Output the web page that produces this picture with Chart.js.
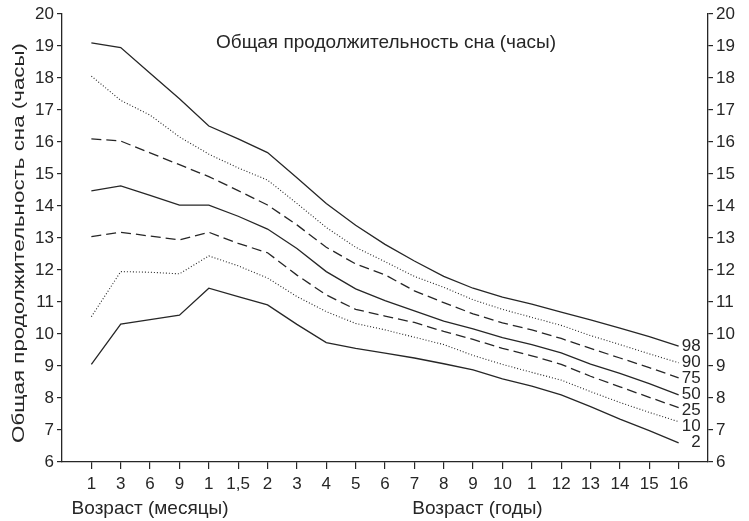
<!DOCTYPE html>
<html lang="ru">
<head>
<meta charset="utf-8">
<title>Общая продолжительность сна</title>
<script src="https://cdn.jsdelivr.net/npm/chart.js@4/dist/chart.umd.min.js"></script>
<style>
html, body { margin: 0; padding: 0; background: #fff; }
#wrap { width: 749px; height: 521px; }
</style>
</head>
<body>
<div id="wrap"><canvas id="sleepChart"></canvas></div>
<script>
// age categories (months, then years) as printed under the axis
const ageLabels = ['1', '3', '6', '9', '1', '1,5', '2', '3', '4', '5', '6', '7', '8', '9', '10', '1', '12', '13', '14', '15', '16'];

// percentile curves, hours of sleep per day
const p98 = [19.1, 18.95, 18.15, 17.35, 16.5, 16.1, 15.67, 14.88, 14.08, 13.4, 12.8, 12.28, 11.8, 11.43, 11.15, 10.93, 10.68, 10.44, 10.18, 9.92, 9.62];
const p90 = [18.06, 17.3, 16.84, 16.16, 15.62, 15.19, 14.81, 14.08, 13.33, 12.71, 12.26, 11.8, 11.46, 11.07, 10.77, 10.52, 10.27, 9.95, 9.67, 9.38, 9.1];
const p75 = [16.1, 16.03, 15.66, 15.29, 14.92, 14.48, 14.03, 13.41, 12.71, 12.19, 11.85, 11.35, 10.98, 10.63, 10.35, 10.13, 9.86, 9.55, 9.25, 8.95, 8.63];
const p50 = [14.47, 14.63, 14.33, 14.03, 14.03, 13.68, 13.28, 12.67, 11.95, 11.41, 11.04, 10.72, 10.4, 10.16, 9.89, 9.67, 9.41, 9.06, 8.77, 8.45, 8.1];
const p25 = [13.04, 13.18, 13.06, 12.94, 13.18, 12.83, 12.54, 11.84, 11.22, 10.77, 10.56, 10.36, 10.08, 9.83, 9.55, 9.32, 9.05, 8.68, 8.35, 8.02, 7.7];
const p10 = [10.54, 11.95, 11.93, 11.88, 12.44, 12.13, 11.75, 11.17, 10.7, 10.33, 10.13, 9.9, 9.67, 9.33, 9.05, 8.8, 8.56, 8.2, 7.86, 7.55, 7.26];
const p2 = [9.05, 10.31, 10.45, 10.59, 11.43, 11.17, 10.91, 10.3, 9.73, 9.55, 9.4, 9.25, 9.07, 8.88, 8.6, 8.37, 8.1, 7.73, 7.34, 6.98, 6.6];

const percentileNames = ['98', '90', '75', '50', '25', '10', '2'];
const yMin = 6;
const yMax = 20;

const INK = '#262626';
const FONT = '"Liberation Sans", Arial, sans-serif';

document.addEventListener('DOMContentLoaded', function() {
const series = [p98, p90, p75, p50, p25, p10, p2];
const dashes = {
solid: [],
dotted: [1, 2],
dashed: [10, 5]
};
const styles = ['solid', 'dotted', 'dashed', 'solid', 'dashed', 'dotted', 'solid'];

const datasets = series.map((values, k) => ({
label: percentileNames[k],
data: values.map((v, i) => ({ x: i + 1, y: v })),
borderColor: INK,
borderWidth: styles[k] === 'dotted' ? 1.1 : 1.3,
borderDash: dashes[styles[k]],
pointRadius: 0,
tension: 0,
fill: false,
yAxisID: 'y'
}));

// free text: title, axis captions, percentile names at the line ends
const textPlugin = {
id: 'sleepTexts',
afterDraw(chart) {
const c = chart.ctx;
const area = chart.chartArea;
const xs = chart.scales.x;
const ys = chart.scales.y;
c.save();
c.fillStyle = INK;
c.font = '19px ' + FONT;
c.textAlign = 'center';
c.textBaseline = 'middle';
c.fillText('Общая продолжительность сна (часы)', (area.left + area.right) / 2 + 1, area.top + 29);
c.fillText('Возраст (месяцы)', xs.getPixelForValue(3), area.bottom + 47);
c.fillText('Возраст (годы)', xs.getPixelForValue(14.15), area.bottom + 47);

// the side caption is drawn longer than the title in the original
const yTitle = 'Общая продолжительность сна (часы)';
c.font = '16px ' + FONT;
const stretch = 400 / c.measureText(yTitle).width;
c.save();
c.translate(20, (area.top + area.bottom) / 2 + 5);
c.rotate(-Math.PI / 2);
c.scale(stretch, 1);
c.fillText(yTitle, 0, 0);
c.restore();

c.font = '17px ' + FONT;
c.textAlign = 'right';
const lx = xs.getPixelForValue(ageLabels.length) + 22;
let prev = -Infinity;
series.forEach((values, k) => {
let y = ys.getPixelForValue(values[values.length - 1]);
y = Math.max(y, prev + 16);
prev = y;
c.fillText(percentileNames[k], lx, y);
});
c.restore();
}
};

const tickFont = { family: FONT, size: 17 };
const axisGrid = { display: true, drawOnChartArea: false, drawTicks: true, color: INK, lineWidth: 1.2 };

const ctx = document.getElementById('sleepChart').getContext('2d');
new Chart(ctx, {
type: 'line',
data: { datasets: datasets },
options: {
responsive: true,
maintainAspectRatio: false,
animation: false,
layout: { padding: { top: 14, right: 0, bottom: 0, left: 0 } },
plugins: {
legend: { display: false },
tooltip: { enabled: false }
},
scales: {
x: {
type: 'linear',
min: 0,
max: ageLabels.length + 1,
afterBuildTicks: function(scale) {
scale.ticks = ageLabels.map((_, i) => ({ value: i + 1 }));
},
afterFit: function(scale) { scale.height = 59; },
ticks: {
autoSkip: false,
maxRotation: 0,
padding: 5,
color: INK,
font: tickFont,
callback: function(value) { return ageLabels[value - 1] || ''; }
},
grid: Object.assign({}, axisGrid, { tickLength: 7 }),
border: { display: true, color: INK, width: 1.3 }
},
y: {
position: 'left',
min: yMin,
max: yMax,
afterFit: function(scale) { scale.width = 62; },
ticks: { stepSize: 1, padding: 3, color: INK, font: tickFont },
grid: Object.assign({}, axisGrid, { tickLength: 5 }),
border: { display: true, color: INK, width: 1.3 }
},
y2: {
position: 'right',
min: yMin,
max: yMax,
afterFit: function(scale) { scale.width = 41; },
ticks: { stepSize: 1, padding: 3, color: INK, font: tickFont },
grid: Object.assign({}, axisGrid, { tickLength: 5 }),
border: { display: true, color: INK, width: 1.3 }
}
}
},
plugins: [textPlugin]
});
});
</script>
</body>
</html>
